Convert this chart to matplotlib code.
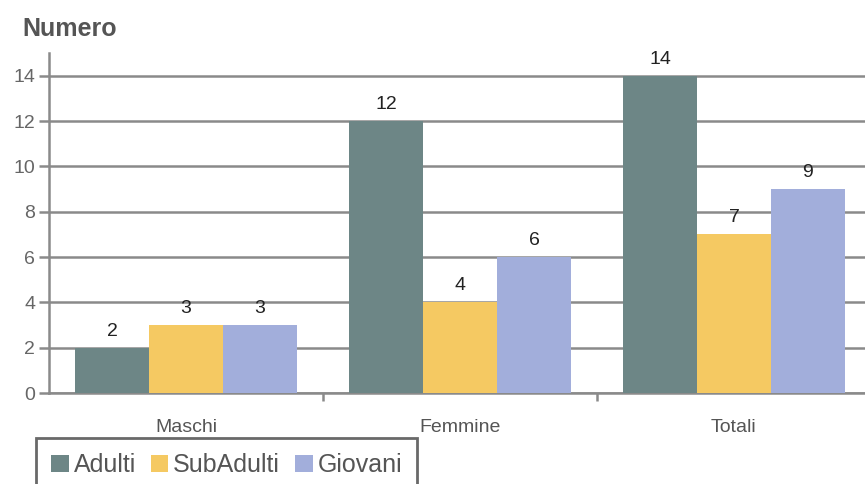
import matplotlib.pyplot as plt
import numpy as np

categorie = ["Maschi", "Femmine", "Totali"]
adulti = [2, 12, 14]
subadulti = [3, 4, 7]
giovani = [3, 6, 9]
serie = ["Adulti", "SubAdulti", "Giovani"]
colori = ["#6d8686", "#f5c962", "#a2aedb"]

plt.rcParams["font.family"] = ["Liberation Sans", "DejaVu Sans"]

fig = plt.figure(figsize=(8.65, 4.84), dpi=100)
# l'asse destro esce dalla figura come nell'originale
ax = fig.add_axes([49 / 865, 91 / 484, 822 / 865, 340 / 484])

x = np.arange(len(categorie))
w = 0.27
grigio = "#8a8a8a"

barre = []
for i, (vals, nome, col) in enumerate(zip([adulti, subadulti, giovani], serie, colori)):
    b = ax.bar(x + (i - 1) * w, vals, w, color=col, label=nome, zorder=3)
    barre.append(b)
    for xi, v in zip(x + (i - 1) * w, vals):
        ax.text(xi, v + 0.35, str(v), ha="center", va="bottom", fontsize=14, color="#222222")

ax.set_xlim(-0.5, 2.5)
ax.set_ylim(0, 15)
ax.set_yticks(range(0, 15, 2))
ax.yaxis.grid(True, color=grigio, linewidth=1.8, zorder=0)
ax.set_axisbelow(True)

ax.set_xticks([0.5, 1.5])
ax.set_xticklabels([])
ax.set_xticks(x, minor=True)
ax.set_xticklabels(categorie, minor=True)
ax.tick_params(axis="x", which="major", length=6, width=1.8, color=grigio, direction="out")
ax.tick_params(axis="x", which="minor", length=0, pad=19, labelsize=14, labelcolor="#555555")
ax.tick_params(axis="y", length=7, width=1.8, color=grigio, labelsize=14, labelcolor="#666666", pad=3)

for s in ["top", "right"]:
    ax.spines[s].set_visible(False)
for s in ["left", "bottom"]:
    ax.spines[s].set_color(grigio)
    ax.spines[s].set_linewidth(1.8)

fig.text(22 / 865, 1 - 29 / 484, "Numero", fontsize=18, fontweight="bold", color="#555555", va="center")

leg = fig.legend(handles=barre, labels=serie, loc="upper left",
                 bbox_to_anchor=(36 / 865, 1 - 438 / 484), borderaxespad=0, ncol=3, fontsize=18,
                 frameon=True, fancybox=False, handlelength=0.7, handleheight=0.7,
                 handletextpad=0.2, columnspacing=0.6, borderpad=0.6, labelcolor="#555555")
leg.get_frame().set_edgecolor("#444444")
leg.get_frame().set_linewidth(2)

fig.savefig("out.png", dpi=100)
